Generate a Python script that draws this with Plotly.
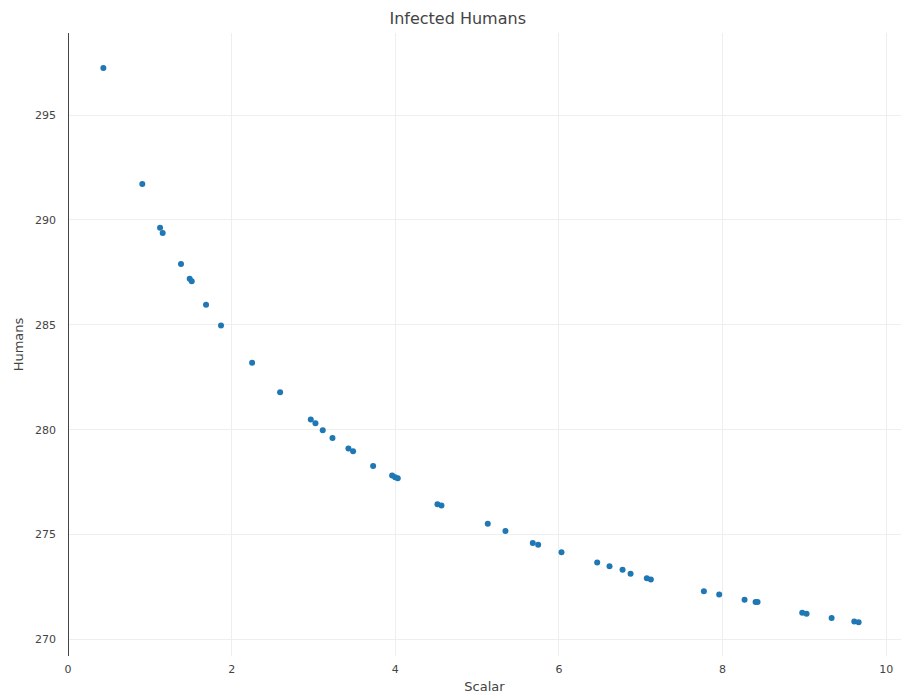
import plotly.graph_objects as go

scalar = [0.432, 0.908, 1.125, 1.157, 1.381, 1.487, 1.512, 1.687, 1.870,
          2.250, 2.592, 2.967, 3.024, 3.113, 3.232, 3.427, 3.484, 3.729,
          3.961, 3.998, 4.030, 4.515, 4.564, 5.130, 5.346, 5.680, 5.746,
          6.031, 6.467, 6.618, 6.777, 6.875, 7.074, 7.123, 7.771, 7.958,
          8.268, 8.403, 8.427, 8.973, 9.026, 9.332, 9.609, 9.662]
humans = [297.24, 291.71, 289.62, 289.38, 287.90, 287.20, 287.07, 285.95, 284.97,
          283.19, 281.78, 280.48, 280.30, 279.97, 279.60, 279.10, 278.97, 278.27,
          277.81, 277.73, 277.68, 276.44, 276.38, 275.52, 275.17, 274.60, 274.51,
          274.16, 273.67, 273.49, 273.32, 273.13, 272.92, 272.86, 272.30, 272.14,
          271.89, 271.79, 271.78, 271.27, 271.22, 271.02, 270.86, 270.82]

x_ticks = [0, 2, 4, 6, 8, 10]
y_ticks = [270, 275, 280, 285, 290, 295]

fig = go.Figure()
fig.add_trace(go.Scatter(
    x=scalar, y=humans, mode="markers",
    marker=dict(color="#1f77b4", size=6),
    showlegend=False,
))

font_family = "DejaVu Sans, Verdana, sans-serif"
fig.update_layout(
    template="none",
    width=901, height=696,
    margin=dict(l=68, r=0, t=33, b=40),
    paper_bgcolor="white", plot_bgcolor="white",
    font=dict(family=font_family, color="#444", size=11),
    title=dict(text="Infected Humans", x=0.508, xanchor="center",
               y=1 - 18 / 696, yanchor="middle",
               font=dict(size=16, family=font_family, color="#444")),
    xaxis=dict(
        range=[0, 10.18], tickvals=x_ticks, showgrid=True, gridcolor="#eee",
        zeroline=True, zerolinecolor="#444", zerolinewidth=1,
        showline=False, ticks="", tickfont=dict(size=11),
        ticklabelstandoff=5,
        title=dict(text="Scalar", font=dict(size=13), standoff=6),
    ),
    yaxis=dict(
        range=[269.21, 298.91], tickvals=y_ticks, showgrid=True, gridcolor="#eee",
        zeroline=False, showline=False, ticks="", tickfont=dict(size=11),
        ticklabelstandoff=11,
        title=dict(text="Humans", font=dict(size=13), standoff=8),
    ),
)

fig.write_html("out.html")
